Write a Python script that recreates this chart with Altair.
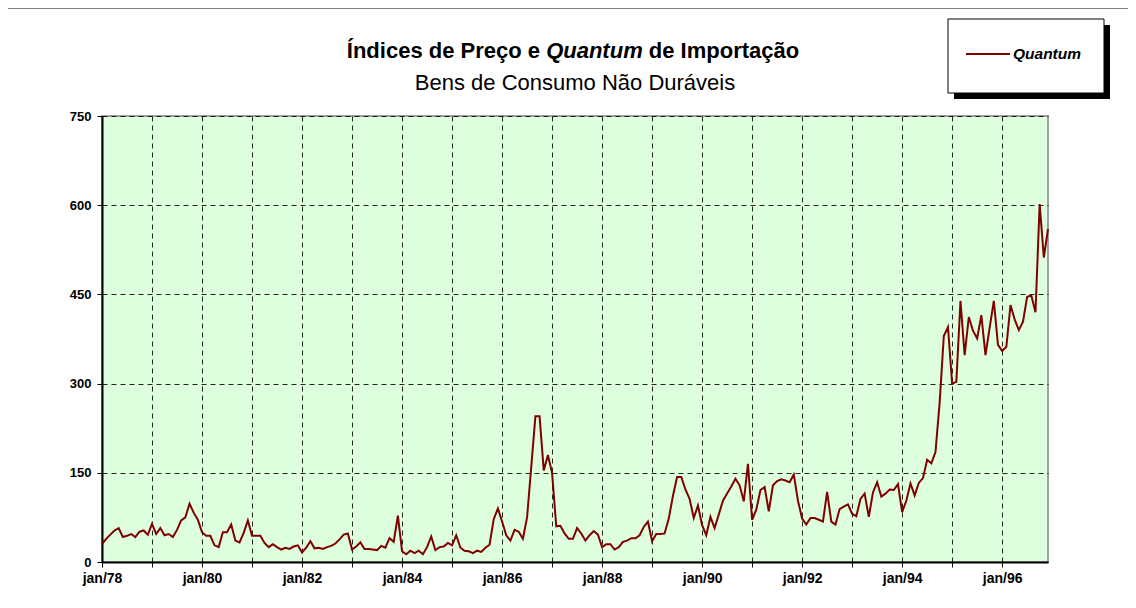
import altair as alt
import pandas as pd

FONT = "Liberation Sans"

# Monthly Quantum index, Jan/78 .. Dec/96
q1978 = [30, 39, 46, 53, 57, 42, 44, 47, 42, 51, 53, 46]
q1979 = [64, 47, 57, 45, 47, 42, 54, 70, 75, 98, 83, 71]
q1980 = [50, 44, 44, 28, 25, 50, 50, 63, 36, 33, 49, 70]
q1981 = [44, 44, 44, 32, 25, 30, 25, 21, 24, 22, 26, 28]
q1982 = [16, 24, 35, 23, 24, 22, 25, 27, 31, 38, 46, 48]
q1983 = [21, 26, 33, 22, 22, 21, 20, 27, 24, 40, 34, 78]
q1984 = [18, 13, 19, 15, 19, 13, 25, 43, 20, 25, 26, 32]
q1985 = [28, 45, 24, 19, 18, 15, 19, 17, 24, 29, 72, 90]
q1986 = [68, 45, 36, 54, 51, 39, 75, 160, 245, 245, 154, 180]
q1987 = [150, 60, 61, 48, 39, 39, 57, 48, 36, 45, 52, 46]
q1988 = [25, 30, 30, 21, 25, 34, 36, 40, 40, 45, 59, 68]
q1989 = [35, 47, 47, 48, 73, 111, 143, 143, 122, 106, 74, 95]
q1990 = [62, 45, 76, 57, 80, 103, 115, 127, 140, 129, 102, 165]
q1991 = [71, 88, 121, 126, 85, 129, 136, 139, 137, 134, 147, 103]
q1992 = [73, 63, 74, 74, 71, 68, 118, 68, 63, 89, 93, 97]
q1993 = [81, 77, 106, 115, 76, 117, 134, 110, 115, 122, 121, 131]
q1994 = [84, 103, 132, 112, 133, 141, 172, 166, 185, 268, 380, 395]
q1995 = [300, 303, 439, 348, 412, 389, 376, 415, 348, 394, 439, 365]
q1996 = [355, 362, 432, 408, 390, 404, 446, 448, 420, 602, 512, 560]

series = [q1978, q1979, q1980, q1981, q1982, q1983, q1984, q1985, q1986, q1987,
          q1988, q1989, q1990, q1991, q1992, q1993, q1994, q1995, q1996]
first_year = 1978

y_ticks = [0, 150, 300, 450, 600, 750]
x_tick_months = list(range(0, 12 * len(series), 12))

title_left = "Índices de Preço e"
title_mid = "Quantum"
title_right = "de Importação"
subtitle = "Bens de Consumo Não Duráveis"
legend_label = "Quantum"

rows = []
for yi, vals in enumerate(series):
    for m, v in enumerate(vals):
        rows.append({"t": yi * 12 + m, "Quantum": v})
df = pd.DataFrame(rows)

W, H = 946, 446
one = pd.DataFrame({"a": [0]})

line = alt.Chart(df).mark_line(color="#800000", strokeWidth=2).encode(
    x=alt.X("t:Q", scale=alt.Scale(domain=[0, 227], nice=False, zero=False),
            axis=alt.Axis(values=x_tick_months, title=None, grid=True,
                          labelExpr="datum.value % 24 == 0 ? 'jan/' + (78 + datum.value / 12) : ''",
                          labelFont=FONT, labelFontSize=14, labelFontWeight="bold",
                          labelColor="black", labelPadding=4, labelFlush=False,
                          labelOverlap=False)),
    y=alt.Y("Quantum:Q", scale=alt.Scale(domain=[0, 750], nice=False),
            axis=alt.Axis(values=y_ticks, title=None, grid=True,
                          labelFont=FONT, labelFontSize=13, labelFontWeight="bold",
                          labelColor="black", labelPadding=6)),
)

def txt(s, x, y, size, weight="bold", style="normal", align="center"):
    return alt.Chart(one).mark_text(
        text=s, font=FONT, fontSize=size, fontWeight=weight, fontStyle=style,
        align=align, baseline="middle", color="black"
    ).encode(x=alt.value(x), y=alt.value(y))

# title centred (page x ~573 -> plot x ~471); widths from Arial-like metrics
title_size = 22
em_left = 9.06      # "Índices de Preço e " incl. trailing space
em_mid = 4.389      # "Quantum"
em_right = 7.113    # " de Importação"
total = (em_left + em_mid + em_right) * title_size
start = 471 - total / 2
q_left = start + em_left * title_size
q_right = q_left + em_mid * title_size
ty = -65
t1 = txt(title_left, q_left - 0.278 * title_size, ty, title_size, align="right")
t2 = txt(title_mid, q_left, ty, title_size, style="italic", align="left")
t3 = txt(title_right, q_right + 0.278 * title_size, ty, title_size, align="left")
st = txt(subtitle, 473, -33, 22, weight="normal")

shadow = alt.Chart(one).mark_rect(color="black").encode(
    x=alt.value(852), x2=alt.value(1008), y=alt.value(-91), y2=alt.value(-17))
box = alt.Chart(one).mark_rect(fill="white", stroke="black", strokeWidth=1).encode(
    x=alt.value(846), x2=alt.value(1002), y=alt.value(-97), y2=alt.value(-23))
leg_line = alt.Chart(one).mark_rule(color="#800000", strokeWidth=2).encode(
    x=alt.value(864), x2=alt.value(908), y=alt.value(-62))
leg_text = txt(legend_label, 911, -62, 15.5, style="italic", align="left")

top_border = alt.Chart(one).mark_rule(color="#808080", strokeWidth=1).encode(
    x=alt.value(-94), x2=alt.value(1030), y=alt.value(-107.5))

chart = alt.layer(
    line, t1, t2, t3, st, shadow, box, leg_line, leg_text, top_border
).properties(
    width=W, height=H,
    autosize=alt.AutoSizeParams(type="none"),
    padding={"left": 94, "top": 108, "right": 80, "bottom": 40},
    background="white",
).configure_view(
    stroke="#a0a0a0", strokeWidth=2, fill="#ddffdd"
).configure_axis(
    domainColor="black", domainWidth=2, tickColor="black", tickSize=5, tickWidth=1,
    gridColor="black", gridDash=[5, 4], gridWidth=1, gridOpacity=0.85,
)

chart.save("out.html", embed_options={"renderer": "svg", "actions": False})
